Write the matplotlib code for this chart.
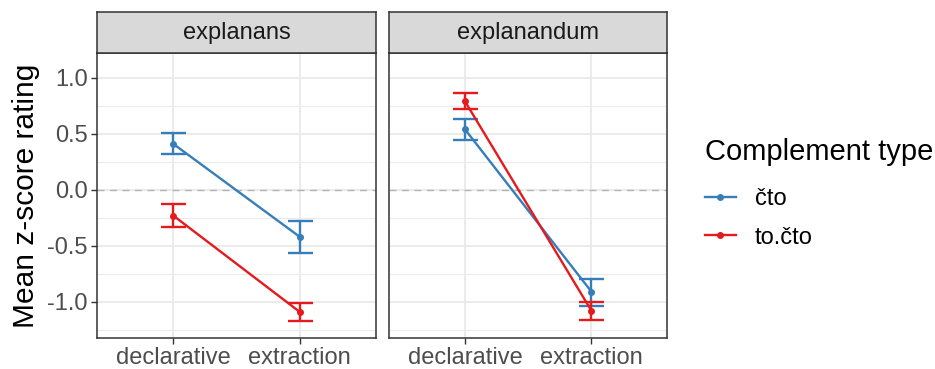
import numpy as np
import matplotlib.pyplot as plt
from matplotlib.lines import Line2D
from matplotlib.ticker import MultipleLocator

plt.rcParams['font.family'] = ['Liberation Sans', 'DejaVu Sans']

# data
panels = ['explanans', 'explanandum']
conditions = ['declarative', 'extraction']
groups = ['čto', 'to.čto']
colors = {'čto': '#377EB8', 'to.čto': '#E41A1C'}

means = {
    'explanans':   {'čto': [0.41, -0.42], 'to.čto': [-0.23, -1.09]},
    'explanandum': {'čto': [0.54, -0.91], 'to.čto': [0.79, -1.08]},
}
lower = {
    'explanans':   {'čto': [0.32, -0.56], 'to.čto': [-0.33, -1.17]},
    'explanandum': {'čto': [0.44, -1.04], 'to.čto': [0.72, -1.16]},
}
upper = {
    'explanans':   {'čto': [0.51, -0.28], 'to.čto': [-0.13, -1.01]},
    'explanandum': {'čto': [0.63, -0.80], 'to.čto': [0.86, -1.00]},
}

W, H = 935, 369
fig = plt.figure(figsize=(W / 100, H / 100), dpi=100)

left_px = [97.3, 389.0]
pw = 278.4
top_px, bot_px = 53.3, 337.7
strip_top = 12.0

axes = []
for i, name in enumerate(panels):
    ax = fig.add_axes([left_px[i] / W, 1 - bot_px / H, pw / W, (bot_px - top_px) / H])
    axes.append(ax)
    x = np.arange(1, len(conditions) + 1)
    ax.axhline(0, color='#B3B3B3', lw=1.0, ls=(0, (5, 4)), zorder=1.5)
    for g in groups:
        m = np.array(means[name][g])
        lo = np.array(lower[name][g])
        hi = np.array(upper[name][g])
        ax.errorbar(x, m, yerr=[m - lo, hi - m], color=colors[g], lw=1.7,
                    capsize=9, capthick=1.7, fmt='none', zorder=3)
        ax.plot(x, m, color=colors[g], lw=1.7, marker='o', ms=4, zorder=4)
    ax.set_xlim(0.4, 2.6)
    ax.set_ylim(-1.32, 1.218)
    ax.set_xticks(x)
    ax.set_xticklabels(conditions)
    ax.yaxis.set_minor_locator(MultipleLocator(0.25))
    ax.set_yticks([-1.0, -0.5, 0.0, 0.5, 1.0])
    ax.set_yticklabels(['-1.0', '-0.5', '0.0', '0.5', '1.0'])
    ax.grid(True, which='major', color='#EBEBEB', lw=1.5, zorder=0)
    ax.grid(True, which='minor', axis='y', color='#EBEBEB', lw=0.8, zorder=0)
    ax.set_axisbelow(True)
    ax.tick_params(which='minor', length=0)
    ax.tick_params(which='major', length=4, width=1.0, color='#333333',
                   labelsize=17, labelcolor='#4D4D4D', pad=3)
    for s in ax.spines.values():
        s.set_color('#333333')
        s.set_linewidth(1.1)
    if i == 1:
        ax.tick_params(axis='y', length=0, labelleft=False)
    # strip
    sax = fig.add_axes([left_px[i] / W, 1 - top_px / H, pw / W, (top_px - strip_top) / H])
    sax.set_facecolor('#D9D9D9')
    sax.set_xticks([])
    sax.set_yticks([])
    for s in sax.spines.values():
        s.set_color('#333333')
        s.set_linewidth(1.1)
    sax.text(0.5, 0.5, name, ha='center', va='center', fontsize=17,
             color='#1A1A1A', transform=sax.transAxes)

axes[0].set_ylabel('Mean z-score rating', fontsize=21.5, labelpad=5)

handles = [Line2D([], [], color=colors[g], lw=1.7, marker='o', ms=4) for g in groups]
leg = fig.legend(handles, groups, title='Complement type', loc='upper left',
                 bbox_to_anchor=(705 / W, 1 - 138 / H), frameon=False,
                 fontsize=17, title_fontsize=21, handlelength=1.3,
                 handletextpad=0.8, labelspacing=0.7, borderpad=0,
                 borderaxespad=0)
leg._legend_box.align = 'left'
leg._legend_box.sep = 16

fig.savefig('out.png', dpi=100)
